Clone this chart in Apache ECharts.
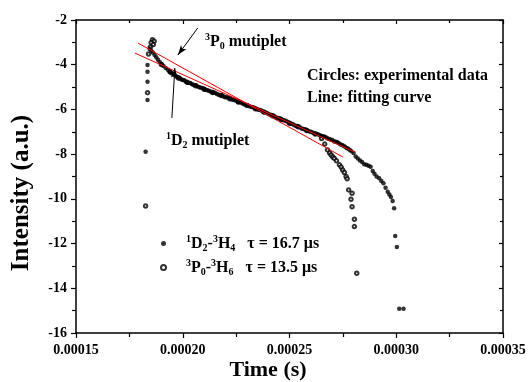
<!DOCTYPE html>
<html>
<head>
<meta charset="utf-8">
<script src="https://cdn.jsdelivr.net/npm/echarts@6/dist/echarts.min.js"></script>
<style>
  html, body { margin: 0; padding: 0; background: #fff; }
  #chart { width: 531px; height: 382px; }
</style>
</head>
<body>
<div id="chart"></div>
<script>
// axis ranges / ticks
const xTicks = [0.00015, 0.00020, 0.00025, 0.00030, 0.00035];
const yTicks = [-16, -14, -12, -10, -8, -6, -4, -2];

// 1D2 -> 3H4 (filled dots)
const d2Time = [
  0.0001835, 0.0001835, 0.0001835, 0.0001835, 0.0001826,
  0.0001845, 0.0001852, 0.0001860, 0.0001868, 0.0001876, 0.0001884, 0.0001892, 0.0001900,
  0.0001910, 0.0001920, 0.0001930, 0.0001940, 0.0001952, 0.0001964, 0.0001976, 0.0001988,
  0.0002000, 0.0002014, 0.0002028, 0.0002042, 0.0002056, 0.0002070, 0.0002085, 0.0002100,
  0.0002115, 0.0002130, 0.0002145, 0.0002160, 0.0002175, 0.0002190, 0.0002205, 0.0002220,
  0.0002235, 0.0002250, 0.0002265, 0.0002280, 0.0002295, 0.0002310, 0.0002325, 0.0002340,
  0.0002355, 0.0002370, 0.0002385, 0.0002400, 0.0002415, 0.0002430, 0.0002445, 0.0002460,
  0.0002475, 0.0002490, 0.0002505, 0.0002520, 0.0002535, 0.0002550, 0.0002565, 0.0002580,
  0.0002595, 0.0002610, 0.0002625, 0.0002640, 0.0002655, 0.0002670, 0.0002685, 0.0002700,
  0.0002715, 0.0002730, 0.0002745, 0.0002760, 0.0002775, 0.0002790,
  0.0002800, 0.0002810, 0.0002820, 0.0002830, 0.0002840, 0.0002850, 0.0002860, 0.0002870,
  0.0002880, 0.0002890, 0.0002898, 0.0002908, 0.0002920, 0.0002930, 0.0002940, 0.0002950,
  0.0002960, 0.0002968, 0.0002975, 0.0002983, 0.0002990, 0.0002995, 0.0003003, 0.0003014,
  0.0003034,
  0.0001946, 0.0001958, 0.0001970, 0.0001982, 0.0001994, 0.0002007, 0.0002021, 0.0002035,
  0.0002049, 0.0002063, 0.00020775, 0.00020925, 0.00021075, 0.00021225, 0.00021375, 0.00021525,
  0.00021675, 0.00021825, 0.00021975, 0.00022125, 0.00022275, 0.00022425, 0.00022575, 0.00022725,
  0.00022875, 0.00023025, 0.00023175, 0.00023325, 0.00023475, 0.00023625, 0.00023775, 0.00023925,
  0.00024075, 0.00024225, 0.00024375, 0.00024525, 0.00024675, 0.00024825, 0.00024975, 0.00025125,
  0.00025275, 0.00025425, 0.00025575, 0.00025725, 0.00025875, 0.00026025, 0.00026175, 0.00026325,
  0.00026475, 0.00026625, 0.00026775, 0.00026925, 0.00027075, 0.00027225, 0.00027375, 0.00027525,
  0.00027675, 0.00027825
];
const d2Intensity = [
  -4.01, -4.31, -4.76, -5.58, -7.89,
  -3.30, -3.36, -3.45, -3.56, -3.67, -3.78, -3.88, -3.97,
  -4.06, -4.15, -4.23, -4.31, -4.40, -4.48, -4.55, -4.62,
  -4.68, -4.75, -4.81, -4.86, -4.92, -4.97, -5.03, -5.09,
  -5.14, -5.20, -5.24, -5.31, -5.35, -5.41, -5.46, -5.50,
  -5.57, -5.61, -5.68, -5.73, -5.79, -5.85, -5.89, -5.96,
  -6.01, -6.06, -6.14, -6.19, -6.25, -6.31, -6.38, -6.42,
  -6.50, -6.55, -6.63, -6.69, -6.74, -6.81, -6.87, -6.92,
  -6.99, -7.04, -7.09, -7.14, -7.20, -7.24, -7.32, -7.37,
  -7.45, -7.50, -7.59, -7.67, -7.76, -7.87,
  -7.95, -8.10, -8.20, -8.28, -8.35, -8.45, -8.48, -8.52,
  -8.56, -8.75, -8.88, -9.00, -9.08, -9.20, -9.30, -9.50,
  -9.68, -9.80, -9.92, -10.10, -10.42, -11.66, -12.15, -14.92,
  -14.92,
  -4.37, -4.42, -4.53, -4.57, -4.66, -4.70, -4.79, -4.82,
  -4.90, -4.93, -5.01, -5.04, -5.12, -5.16, -5.23, -5.27,
  -5.34, -5.37, -5.45, -5.47, -5.55, -5.58, -5.66, -5.69,
  -5.77, -5.81, -5.88, -5.91, -5.99, -6.03, -6.11, -6.15,
  -6.23, -6.27, -6.36, -6.39, -6.47, -6.51, -6.60, -6.65,
  -6.73, -6.76, -6.85, -6.89, -6.97, -7.01, -7.08, -7.11,
  -7.18, -7.21, -7.29, -7.34, -7.42, -7.46, -7.56, -7.62,
  -7.73, -7.81
];

// 3P0 -> 3H6 (open circles)
const p0Time = [
  0.0001858, 0.0001866, 0.0001852, 0.0001862, 0.0001848, 0.0001840, 0.0001835, 0.0001826,
  0.0001900, 0.0001940, 0.0001980, 0.0002020, 0.0002060, 0.0002100, 0.0002140, 0.0002180,
  0.0002220, 0.0002260, 0.0002300, 0.0002340, 0.0002380, 0.0002420, 0.0002460, 0.0002500,
  0.0002540, 0.0002580, 0.0002620, 0.0002650, 0.0002665, 0.0002678,
  0.0002688, 0.0002695, 0.0002703, 0.0002710, 0.0002720, 0.0002734, 0.0002742, 0.0002749,
  0.0002757, 0.0002765, 0.0002770, 0.0002777, 0.0002793, 0.0002788, 0.0002793, 0.0002804,
  0.0002804, 0.0002815
];
const p0Intensity = [
  -2.88, -2.95, -3.02, -3.10, -3.22, -3.52, -5.25, -10.32,
  -3.99, -4.32, -4.60, -4.78, -4.94, -5.10, -5.24, -5.38,
  -5.52, -5.67, -5.82, -5.97, -6.12, -6.28, -6.45, -6.62,
  -6.78, -6.94, -7.10, -7.30, -7.55, -7.81,
  -7.95, -8.04, -8.13, -8.19, -8.30, -8.48, -8.58, -8.71,
  -8.82, -9.00, -9.10, -9.60, -9.75, -10.02, -10.35, -10.91,
  -11.24, -13.33
];

// fitted lines (end points)
const fitD2Time = [0.0001776, 0.0002804];
const fitD2Value = [-3.48, -7.90];
const fitP0Time = [0.0001790, 0.0002750];
const fitP0Value = [-3.03, -8.13];

// annotation arrows [head, tail]
const arrowP0 = [[0.0001977, -3.57], [0.0002070, -2.36]];
const arrowD2 = [[0.0001963, -4.15], [0.0001949, -6.38]];

const FONT = '"Liberation Serif", "Times New Roman", serif';
const zip = (a, b) => a.map((v, i) => [v, b[i]]);

const rich = {
  sup: { fontFamily: FONT, fontWeight: 'bold', fontSize: 10, color: '#000', padding: [0, 0, 9, 0] },
  sub: { fontFamily: FONT, fontWeight: 'bold', fontSize: 10, color: '#000', padding: [9, 0, 0, 0] },
  t: { fontFamily: FONT, fontWeight: 'bold', fontSize: 16, color: '#000' }
};

const legendText = {
  D2: '{sup|1}{t|D}{sub|2}{t|-}{sup|3}{t|H}{sub|4}{t|   τ = 16.7 μs}',
  P0: '{sup|3}{t|P}{sub|0}{t|-}{sup|3}{t|H}{sub|6}{t|   τ = 13.5 μs}'
};

const axisLineStyle = { color: '#000', width: 1.5 };
const tickStyle = { color: '#000', width: 1.2 };

const chart = echarts.init(document.getElementById('chart'));
chart.setOption({
  animation: false,
  backgroundColor: '#fff',
  grid: { left: 76, right: 28, top: 20, bottom: 49 },
  legend: {
    data: ['D2', 'P0'],
    orient: 'vertical',
    left: 155,
    top: 229,
    itemWidth: 5,
    itemHeight: 5,
    itemGap: 5,
    formatter: n => legendText[n],
    textStyle: { fontFamily: FONT, fontWeight: 'bold', fontSize: 16, color: '#000', padding: [0, 0, 0, 15], rich: rich }
  },
  xAxis: [
    {
      type: 'value', position: 'bottom',
      min: xTicks[0], max: xTicks[xTicks.length - 1], interval: 0.00005,
      axisLine: { show: true, onZero: false, lineStyle: axisLineStyle },
      axisTick: { show: true, inside: false, length: 5, lineStyle: tickStyle },
      minorTick: { show: true, splitNumber: 2, length: 4, lineStyle: tickStyle },
      splitLine: { show: false },
      axisLabel: {
        formatter: v => v.toFixed(5),
        fontFamily: FONT, fontWeight: 'bold', fontSize: 14, color: '#000', margin: 10
      }
    },
    {
      type: 'value', position: 'top',
      min: xTicks[0], max: xTicks[xTicks.length - 1], interval: 0.00005,
      axisLine: { show: true, onZero: false, lineStyle: axisLineStyle },
      axisTick: { show: true, inside: true, length: 4, lineStyle: tickStyle },
      minorTick: { show: true, splitNumber: 2, length: 3, lineStyle: tickStyle },
      splitLine: { show: false },
      axisLabel: { show: false }
    }
  ],
  yAxis: [
    {
      type: 'value', position: 'left',
      min: yTicks[0], max: yTicks[yTicks.length - 1], interval: 2,
      axisLine: { show: true, onZero: false, lineStyle: axisLineStyle },
      axisTick: { show: true, inside: false, length: 5, lineStyle: tickStyle },
      minorTick: { show: true, splitNumber: 2, length: 4, lineStyle: tickStyle },
      splitLine: { show: false },
      axisLabel: { fontFamily: FONT, fontWeight: 'bold', fontSize: 14, color: '#000', margin: 9 }
    },
    {
      type: 'value', position: 'right',
      min: yTicks[0], max: yTicks[yTicks.length - 1], interval: 2,
      axisLine: { show: true, onZero: false, lineStyle: axisLineStyle },
      axisTick: { show: true, inside: true, length: 4, lineStyle: tickStyle },
      minorTick: { show: true, splitNumber: 2, length: 3, lineStyle: tickStyle },
      splitLine: { show: false },
      axisLabel: { show: false }
    }
  ],
  series: [
    {
      name: 'P0', type: 'scatter', z: 2,
      symbol: 'emptyCircle', symbolSize: 3.5,
      itemStyle: { color: '#000', borderColor: '#000', borderWidth: 0.9 },
      data: zip(p0Time, p0Intensity)
    },
    {
      name: 'D2', type: 'scatter', z: 3,
      symbol: 'circle', symbolSize: 4.5,
      itemStyle: { color: '#000' },
      data: zip(d2Time, d2Intensity),
      markLine: {
        silent: true, animation: false,
        symbol: ['arrow', 'none'], symbolSize: [5, 10],
        lineStyle: { color: '#000', width: 1, type: 'solid' },
        label: { show: false },
        data: [
          [{ coord: arrowP0[0] }, { coord: arrowP0[1] }],
          [{ coord: arrowD2[0] }, { coord: arrowD2[1] }]
        ]
      }
    },
    {
      name: 'fitD2', type: 'line', z: 4, showSymbol: false,
      lineStyle: { color: '#ff0000', width: 1 },
      data: zip(fitD2Time, fitD2Value)
    },
    {
      name: 'fitP0', type: 'line', z: 4, showSymbol: false,
      lineStyle: { color: '#ff0000', width: 1 },
      data: zip(fitP0Time, fitP0Value)
    }
  ],
  graphic: [
    {
      type: 'text', left: 205, top: 32,
      style: { text: '{sup|3}{t|P}{sub|0}{t| mutiplet}', rich: rich }
    },
    {
      type: 'text', left: 166, top: 131,
      style: { text: '{sup|1}{t|D}{sub|2}{t| mutiplet}', rich: rich }
    },
    {
      type: 'text', left: 307, top: 68,
      style: { text: 'Circles: experimental data', font: 'bold 16px ' + FONT, fill: '#000' }
    },
    {
      type: 'text', left: 307, top: 90,
      style: { text: 'Line: fitting curve', font: 'bold 16px ' + FONT, fill: '#000' }
    },
    {
      type: 'text', x: 268, y: 370,
      style: { text: 'Time (s)', font: 'bold 22px ' + FONT, fill: '#000', align: 'center', verticalAlign: 'middle' }
    },
    {
      type: 'text', x: 22, y: 193, rotation: Math.PI / 2,
      style: { text: 'Intensity (a.u.)', font: 'bold 25px ' + FONT, fill: '#000', align: 'center', verticalAlign: 'middle' }
    }
  ]
});
</script>
</body>
</html>
